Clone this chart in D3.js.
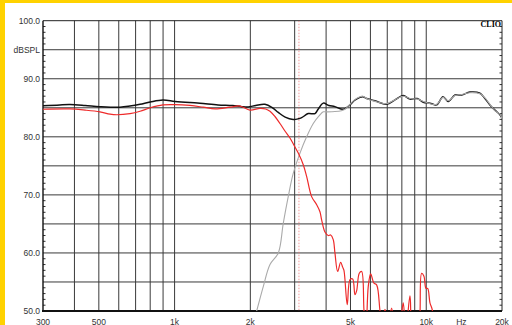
<!DOCTYPE html>
<html>
<head>
<meta charset="utf-8">
<script src="https://cdn.jsdelivr.net/npm/d3@7"></script>
<style>
	body{margin:0;background:#fff}
	text{font-family:"Liberation Sans",Arial,sans-serif}
</style>
</head>
<body>
<script>
// total response (black)
const total_f=[300,350,384,441,505,607,665,729,800,899,1004,1151,1262,1488,1700,1850,1963,2100,2286,2450,2583,2750,2961,3100,3199,3397,3613,3724,3897,4100,4337,4680,4977,5200,5452,5605,5797,6253,6962,7511,8103,8616,9211,9729,10346,11000,11650,12228,13004,13828,14914,16350,17106,17907,18746,19626,20000]
const total_db=[85.35,85.5,85.55,85.4,85.2,85.1,85.3,85.6,86.0,86.35,86.1,85.9,85.8,85.5,85.4,85.2,85.15,85.4,85.6,85.0,84.2,83.4,83.0,83.1,83.3,84.0,84.0,84.8,85.8,85.4,85.2,84.75,85.5,86.3,86.8,86.9,86.6,86.2,85.6,86.35,87.1,86.5,86.6,85.95,85.8,85.5,86.9,86.1,87.2,87.2,87.7,87.5,86.6,85.5,84.6,83.8,83.2]

// woofer (red)
const woofer_f=[300,384,441,505,554,590,665,729,800,899,1004,1151,1300,1450,1660,1819,1993,2184,2300,2394,2505,2623,2745,2874,2961,3100,3246,3347,3504,3670,3781,3840,3958,4080,4171,4270,4337,4446,4570,4650,4710,4854,4977,5101,5209,5291,5419,5537,5656,5760,5882,6013,6198,6351,6549,6700,6855,7050,7287,7550,7900,8103,8300,8616,8850,9250,9442,9588,9792,9974,10130,10346,10567,10700]
const woofer_db=[84.75,84.8,84.6,84.3,83.9,83.8,84.0,84.4,85.0,85.5,85.55,85.4,85.1,84.8,85.1,85.3,84.6,84.9,84.8,84.4,83.5,82.3,81.0,79.8,78.8,77.2,75.2,73.2,69.7,68.3,67.1,65.7,63.6,63.0,63.1,62.3,60.0,56.8,58.4,57.6,57.0,51.1,55.4,55.5,52.8,53.5,56.5,56.8,50.2,46,54.2,56.4,54.8,54.5,50.0,46.5,50.3,47.5,50.5,45,48,51.4,46.5,52.6,45,44,49.5,56.5,56.0,53.9,53.9,51.4,50.2,47]

// tweeter (gray)
const tweeter_f=[2000,2119,2251,2394,2583,2703,2829,2961,3150,3347,3557,3750,3897,4020,4337,4600,4753,4977,5200,5452,5605,5797,6253,6962,7511,8103,8616,9211,9729,10346,11000,11650,12228,13004,13828,14914,16350,17106,17907,18746,19626,20000]
const tweeter_db=[46,50,54.2,58.0,60.0,65.1,69.7,73.7,77.2,80.0,82.3,83.6,84.3,84.3,84.35,84.5,84.75,85.6,86.4,86.9,87.0,86.6,86.1,85.7,86.4,87.0,86.6,86.5,86.1,85.7,85.6,86.8,86.2,87.1,87.3,87.6,87.4,86.7,85.6,84.5,83.9,83.1]

const crossover_f=3120

const grid_f=[400,500,600,700,800,900,1000,2000,3000,4000,5000,6000,7000,8000,9000,10000]
const grid_db=[55,60,65,70,75,80,85,90,95]
const xlabels=[[300,"300"],[500,"500"],[1000,"1k"],[2000,"2k"],[5000,"5k"],[10000,"10k"],[13800,"Hz"],[20000,"20k"]]
const ylabels=[[100,"100.0"],[95,"dBSPL"],[90,"90.0"],[80,"80.0"],[70,"70.0"],[60,"60.0"],[50,"50.0"]]

const W=512,H=325
const svg=d3.select("body").append("svg").attr("width",W).attr("height",H)

// yellow frame
svg.append("rect").attr("x",0).attr("y",0).attr("width",W).attr("height",3).attr("fill","#ffd200")
svg.append("rect").attr("x",0).attr("y",0).attr("width",5).attr("height",H).attr("fill","#ffd200")

const x=d3.scaleLog().domain([300,20000]).range([43,502])
const y=d3.scaleLinear().domain([50,100]).range([311,20.7])

const grid=svg.append("g").attr("stroke","#3a3a3a").attr("stroke-width",1)
grid.selectAll(".vx").data(grid_f).enter().append("line")
	.attr("x1",d=>x(d)).attr("x2",d=>x(d))
	.attr("y1",y(100)).attr("y2",y(50))
grid.selectAll(".hy").data(grid_db).enter().append("line")
	.attr("x1",x(300)).attr("x2",x(20000))
	.attr("y1",d=>y(d)).attr("y2",d=>y(d))

// minor ticks left and right
const minor=d3.range(51,100).filter(d=>d%5!=0)
svg.append("g").attr("stroke","#333").selectAll("line").data(minor).enter().append("line")
	.attr("x1",x(300)).attr("x2",x(300)+2.5)
	.attr("y1",d=>y(d)).attr("y2",d=>y(d))
svg.append("g").attr("stroke","#333").selectAll("line").data(minor).enter().append("line")
	.attr("x1",x(20000)-2.5).attr("x2",x(20000))
	.attr("y1",d=>y(d)).attr("y2",d=>y(d))

// frame
svg.append("line").attr("x1",x(300)).attr("x2",x(20000)).attr("y1",y(100)).attr("y2",y(100)).attr("stroke","#222")
svg.append("line").attr("x1",x(20000)).attr("x2",x(20000)).attr("y1",y(100)).attr("y2",y(50)).attr("stroke","#222")
svg.append("line").attr("x1",x(300)).attr("x2",x(300)).attr("y1",y(100)).attr("y2",y(50)).attr("stroke","#111").attr("stroke-width",1.4)
svg.append("line").attr("x1",x(300)-1).attr("x2",x(20000)).attr("y1",y(50)).attr("y2",y(50)).attr("stroke","#111").attr("stroke-width",1.8)

svg.append("clipPath").attr("id","plot").append("rect")
	.attr("x",x(300)).attr("y",y(100)).attr("width",x(20000)-x(300)).attr("height",y(50)-y(100))

const curves=svg.append("g").attr("clip-path","url(#plot)")
const line=d3.line().x(d=>x(d[0])).y(d=>y(d[1])).curve(d3.curveCatmullRom.alpha(0.5))
function series(f,db){ return f.map((v,i)=>[v,db[i]]) }

curves.append("line")
	.attr("x1",x(crossover_f)).attr("x2",x(crossover_f))
	.attr("y1",y(100)).attr("y2",y(50))
	.attr("stroke","#f07070").attr("stroke-width",0.7).attr("stroke-dasharray","1.5,1.5")

curves.append("path").datum(series(total_f,total_db))
	.attr("d",line).attr("fill","none").attr("stroke","#111").attr("stroke-width",1.5)
curves.append("path").datum(series(tweeter_f,tweeter_db))
	.attr("d",line).attr("fill","none").attr("stroke","#aaa").attr("stroke-width",1.1)
curves.append("path").datum(series(woofer_f,woofer_db))
	.attr("d",line).attr("fill","none").attr("stroke","#ee2a2a").attr("stroke-width",1.2)

// labels
svg.append("g").selectAll("text").data(ylabels).enter().append("text")
	.attr("x",40).attr("y",d=>y(d[0])+3)
	.attr("text-anchor","end").attr("font-size",8.5).attr("fill","#333")
	.text(d=>d[1])
svg.append("g").selectAll("text").data(xlabels).enter().append("text")
	.attr("x",d=>x(d[0])).attr("y",324.5)
	.attr("text-anchor","middle").attr("font-size",8.5).attr("fill","#333")
	.text(d=>d[1])

svg.append("text").attr("x",501).attr("y",27)
	.attr("text-anchor","end").attr("font-size",8).attr("font-weight","bold")
	.style("font-family","'Liberation Serif','DejaVu Serif',serif")
	.text("CLIO")
</script>
</body>
</html>
